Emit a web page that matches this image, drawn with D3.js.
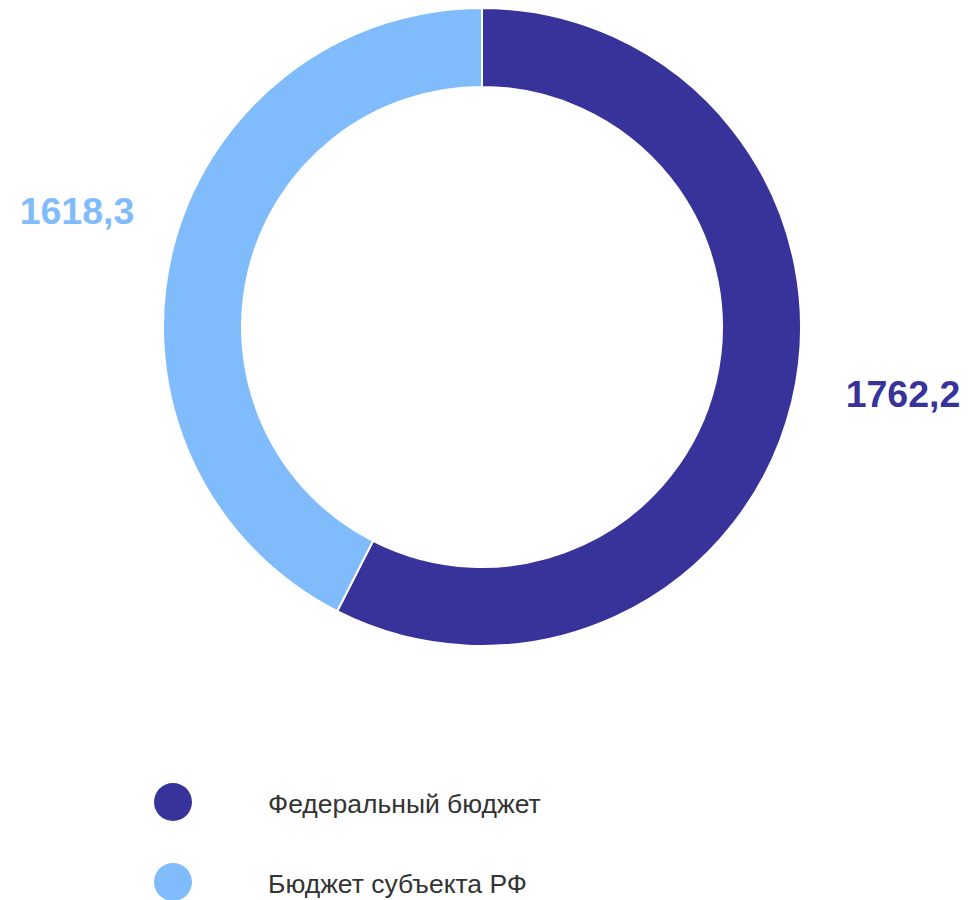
<!DOCTYPE html>
<html>
<head>
<meta charset="utf-8">
<script src="https://cdn.jsdelivr.net/npm/d3@7"></script>
<style>
  body { margin: 0; background: #fff; }
  text { font-family: "Liberation Sans", Arial, sans-serif; }
</style>
</head>
<body>
<div id="chart"></div>
<script>
// data
var names = ["Федеральный бюджет", "Бюджет субъекта РФ"];
var labels = ["1762,2", "1618,3"];
// arc shares as they appear in the picture
var shares = [57.5, 42.5];
var colors = ["#37339a", "#80bcfc"];

(function() {
	var width = 974, height = 900;
	var cx = 482, cy = 327;
	var outerR = 319, innerR = 240;

	var svg = d3.select("#chart")
		.append("svg")
		.attr("width", width)
		.attr("height", height);

	var data = names.map(function(n, i) {
		return { name: n, label: labels[i], share: shares[i], color: colors[i] };
	});

	var pie = d3.pie().sort(null).value(function(d) { return d.share; });
	var arc = d3.arc().innerRadius(innerR).outerRadius(outerR);

	var g = svg.append("g")
		.attr("transform", "translate(" + cx + "," + cy + ")");

	var arcs = pie(data);

	g.selectAll("path")
		.data(arcs)
		.enter().append("path")
		.attr("d", arc)
		.attr("fill", function(d) { return d.data.color; })
		.attr("stroke", "#fff")
		.attr("stroke-width", 2);

	// value labels, left or right of the ring
	var labelPos = [[421, 80], [-405, -103]];
	g.selectAll("text.value")
		.data(arcs)
		.enter().append("text")
		.attr("class", "value")
		.attr("x", function(d, i) { return labelPos[i][0]; })
		.attr("y", function(d, i) { return labelPos[i][1]; })
		.attr("text-anchor", "middle")
		.attr("font-size", "37.5px")
		.attr("font-weight", "bold")
		.attr("fill", function(d) { return d.data.color; })
		.text(function(d) { return d.data.label; });

	// legend
	var legendY = d3.scalePoint().domain(names).range([802, 882]);
	var legend = svg.selectAll("g.legend")
		.data(data)
		.enter().append("g")
		.attr("class", "legend")
		.attr("transform", function(d) { return "translate(0," + legendY(d.name) + ")"; });

	legend.append("circle")
		.attr("cx", 173)
		.attr("cy", 0)
		.attr("r", 19)
		.attr("fill", function(d) { return d.color; });

	legend.append("text")
		.attr("x", 268)
		.attr("y", 0)
		.attr("dy", "0.4em")
		.attr("font-size", "26.5px")
		.attr("fill", "#333")
		.text(function(d) { return d.name; });
})();
</script>
</body>
</html>
